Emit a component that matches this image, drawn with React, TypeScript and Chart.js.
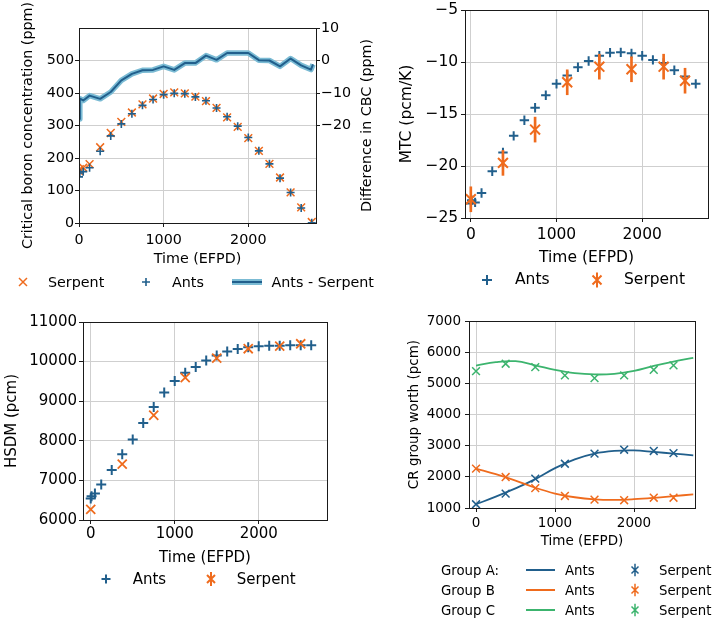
import React, { useEffect, useRef } from 'react';
import { Chart, registerables } from 'chart.js';

Chart.register(...registerables);

const FONT = '"DejaVu Sans", sans-serif';
const BLUE = '#215f8c';
const ORANGE = '#ef6b1d';
const GREEN = '#3cb46e';
const BAND = '#7bbbd4';
const GRID = '#cfcfcf';
const AXIS = '#1a1a1a';

// ---------- Panel 1: critical boron concentration ----------
const T_CBC = [0, 10, 50, 125, 250, 375, 500, 625, 750, 875, 1000, 1125, 1250, 1375, 1500, 1625, 1750, 1875, 2000, 2125, 2250, 2375, 2500, 2625, 2750];
const CBC_SERPENT = [160, 166, 170, 181, 233, 277, 311, 340, 365, 383, 397, 402, 399, 389, 375, 354, 325, 296, 261, 222, 182, 140, 94, 48, 3];
const CBC_ANTS = [142, 154, 158, 170, 221, 268, 305, 336, 362, 380, 395, 399, 398, 388, 376, 354, 327, 298, 263, 222, 182, 138, 94, 46, 1];
const T_DIFF = [0, 10, 50, 125, 250, 375, 500, 625, 750, 875, 1000, 1125, 1250, 1375, 1500, 1625, 1750, 1875, 2000, 2125, 2250, 2375, 2500, 2625, 2740, 2765];
const DIFF = [-18.0, -11.7, -12.3, -10.8, -11.8, -9.7, -6.1, -4.1, -3.0, -2.9, -1.8, -2.9, -0.8, -0.8, 1.5, 0.2, 2.3, 2.3, 2.3, 0.1, 0.0, -1.8, 0.6, -1.5, -2.8, -1.2];
const CBC_TICKS = [0, 100, 200, 300, 400, 500];
const DIFF_TICKS = [-20, -10, 0, 10];
const TIME_TICKS = [0, 1000, 2000];

// ---------- Panel 2: MTC ----------
const T_ANTS = [0, 10, 50, 125, 250, 375, 500, 625, 750, 875, 1000, 1125, 1250, 1375, 1500, 1625, 1750, 1875, 2000, 2125, 2250, 2375, 2500, 2625];
const MTC_ANTS = [-23.6, -23.3, -23.5, -22.6, -20.5, -18.7, -17.1, -15.6, -14.4, -13.2, -12.1, -11.3, -10.5, -9.9, -9.4, -9.1, -9.07, -9.17, -9.4, -9.8, -10.1, -10.8, -11.4, -12.1];
const T_SERP = [0, 375, 750, 1125, 1500, 1875, 2250, 2500];
const MTC_SERPENT = [-23.2, -19.7, -16.5, -11.95, -10.45, -10.7, -10.45, -11.8];
const MTC_ERR = [1.2, 1.2, 1.2, 1.2, 1.2, 1.2, 1.2, 1.2];
const MTC_TICKS = [-25, -20, -15, -10, -5];

// ---------- Panel 3: HSDM ----------
const HSDM_ANTS = [6546, 6600, 6672, 6898, 7260, 7662, 8033, 8451, 8854, 9217, 9509, 9721, 9862, 10030, 10156, 10252, 10320, 10360, 10385, 10400, 10400, 10410, 10410, 10410];
const HSDM_SERPENT = [6269, 7410, 8645, 9594, 10088, 10325, 10390, 10450];
const HSDM_TICKS = [6000, 7000, 8000, 9000, 10000, 11000];

// ---------- Panel 4: CR group worth ----------
const T_FIT = [0, 250, 500, 750, 1000, 1250, 1500, 1750, 2000, 2250, 2500, 2750];
const CR_A_ANTS = [1120, 1365, 1630, 1925, 2280, 2560, 2745, 2830, 2848, 2800, 2745, 2690];
const CR_B_ANTS = [2263, 2085, 1880, 1650, 1465, 1345, 1279, 1262, 1283, 1325, 1380, 1439];
const CR_C_ANTS = [5570, 5680, 5710, 5580, 5430, 5325, 5285, 5305, 5400, 5560, 5700, 5820];
const CR_A_SERPENT = [1120, 1460, 1940, 2420, 2744, 2870, 2830, 2763];
const CR_B_SERPENT = [2263, 1994, 1640, 1386, 1270, 1250, 1330, 1330];
const CR_C_SERPENT = [5391, 5628, 5520, 5253, 5167, 5253, 5435, 5574];
const CR_TICKS = [1000, 2000, 3000, 4000, 5000, 6000, 7000];

const pts = (xs: number[], ys: number[]) => xs.map((x, i) => ({ x, y: ys[i] }));
const fmt = (v: any) => String(v).replace('-', '\u2212');

const framePlugin = {
  id: 'frame',
  afterDatasetsDraw(chart: any) {
    const { ctx, chartArea: a } = chart;
    const al = (p: number) => Math.round(p - 0.5) + 0.5;
    const l = al(a.left), t = al(a.top), r = al(a.right), b = al(a.bottom);
    ctx.save();
    ctx.strokeStyle = AXIS;
    ctx.lineWidth = 1;
    ctx.strokeRect(l, t, r - l, b - t);
    ctx.restore();
  },
};

function scaleX(min: number, max: number, size: number, H: number, tickPad: number, titlePad: number) {
  return {
    type: 'linear', position: 'bottom', min, max, offset: false,
    afterBuildTicks: (s: any) => { s.ticks = TIME_TICKS.map((v) => ({ value: v })); },
    afterFit: (s: any) => { s.height = H; s.paddingLeft = 0; s.paddingRight = 0; },
    grid: { color: GRID, lineWidth: 1, drawTicks: true, tickLength: 4, tickColor: AXIS, tickWidth: 1, offset: false },
    border: { display: false },
    ticks: { color: '#000', font: { family: FONT, size }, padding: tickPad, maxRotation: 0, minRotation: 0, autoSkip: false, callback: fmt },
    title: { display: true, text: 'Time (EFPD)', color: '#000', font: { family: FONT, size }, padding: { top: 0, bottom: titlePad } },
  };
}

function scaleY(position: string, min: number, max: number, ticks: number[], size: number, W: number, tickPad: number, title: string | null, titlePad: number, onArea = true) {
  return {
    type: 'linear', position, min, max,
    afterBuildTicks: (s: any) => { s.ticks = ticks.map((v) => ({ value: v })); },
    afterFit: (s: any) => { s.width = W; s.paddingTop = 0; s.paddingBottom = 0; },
    grid: { color: GRID, lineWidth: 1, drawOnChartArea: onArea, drawTicks: true, tickLength: 4, tickColor: AXIS, tickWidth: 1 },
    border: { display: false },
    ticks: { color: '#000', font: { family: FONT, size }, padding: tickPad, autoSkip: false, callback: fmt },
    title: title
      ? { display: true, text: title, color: '#000', font: { family: FONT, size }, padding: { top: titlePad, bottom: 0 } }
      : { display: false },
  };
}

const scat = (label: string, xs: number[], ys: number[], style: string, color: string, r: number, bw: number, order: number, yAxisID = 'y') => ({
  type: 'scatter', label, data: pts(xs, ys), pointStyle: style, pointRadius: r, pointBorderColor: color,
  pointBackgroundColor: color, pointBorderWidth: bw, showLine: false, order, clip: 0, yAxisID,
});

const line = (label: string, xs: number[], ys: number[], color: string, w: number, tension: number, order: number, yAxisID = 'y') => ({
  type: 'scatter', label, data: pts(xs, ys), showLine: true, borderColor: color, backgroundColor: color, borderWidth: w,
  pointRadius: 0, tension, order, clip: 0, yAxisID, borderJoinStyle: 'round', borderCapStyle: 'butt', fill: false,
});

function baseOptions(padding: any, scales: any) {
  return {
    responsive: false, animation: false, devicePixelRatio: 1, events: [],
    layout: { padding },
    plugins: { legend: { display: false }, tooltip: { enabled: false }, title: { display: false } },
    scales,
  };
}

function config1() {
  const rightTitle = {
    id: 'rightTitle',
    afterDraw(chart: any) {
      const { ctx, chartArea: a } = chart;
      ctx.save();
      ctx.translate(367.5, (a.top + a.bottom) / 2);
      ctx.rotate(-Math.PI / 2);
      ctx.font = `14.3px ${FONT}`;
      ctx.fillStyle = '#000';
      ctx.textAlign = 'center';
      ctx.textBaseline = 'middle';
      ctx.fillText('Difference in CBC (ppm)', 0, 0);
      ctx.restore();
    },
  };
  return {
    type: 'scatter',
    data: {
      datasets: [
        line('band', T_DIFF, DIFF, BAND, 5.5, 0, 4, 'y1'),
        line('Ants - Serpent', T_DIFF, DIFF, BLUE, 2, 0, 3, 'y1'),
        scat('Serpent', T_CBC, CBC_SERPENT, 'crossRot', ORANGE, 5.5, 1.5, 2),
        scat('Ants', T_CBC, CBC_ANTS, 'cross', BLUE, 4, 1.6, 1),
      ],
    },
    options: baseOptions({ top: 28, left: 0, right: 0, bottom: 0 }, {
      x: scaleX(0, 2800, 14.3, 77, 4.4, 31.9),
      y: scaleY('left', 0, 600, CBC_TICKS, 14.3, 79, 1, 'Critical boron concentration (ppm)', 19.4),
      y1: scaleY('right', -50, 10, DIFF_TICKS, 14.3, 64, 1, null, 0, false),
    }),
    plugins: [framePlugin, rightTitle],
  };
}

function config2() {
  return {
    type: 'scatter',
    data: {
      datasets: [
        scat('Ants', T_ANTS, MTC_ANTS, 'cross', BLUE, 4.7, 2, 3),
        {
          type: 'bar', label: 'err', data: T_SERP.map((x, i) => ({ x, y: [MTC_SERPENT[i] - MTC_ERR[i], MTC_SERPENT[i] + MTC_ERR[i]] })),
          backgroundColor: ORANGE, borderWidth: 0, barThickness: 2, order: 2, clip: 0,
        },
        scat('Serpent', T_SERP, MTC_SERPENT, 'crossRot', ORANGE, 7, 2, 1),
      ],
    },
    options: baseOptions({ top: 10, left: 0, right: 2, bottom: 0 }, {
      x: scaleX(-68, 2768, 15.5, 82, 3.2, 33.2),
      y: scaleY('left', -25, -5, MTC_TICKS, 15.5, 85, 2.8, 'MTC (pcm/K)', 17.4),
    }),
    plugins: [framePlugin],
  };
}

function config3() {
  return {
    type: 'scatter',
    data: {
      datasets: [
        scat('Ants', T_ANTS, HSDM_ANTS, 'cross', BLUE, 5, 2, 2),
        scat('Serpent', T_SERP, HSDM_SERPENT, 'crossRot', ORANGE, 6.4, 1.8, 1),
      ],
    },
    options: baseOptions({ top: 22, left: 0, right: 53, bottom: 0 }, {
      x: scaleX(-92, 2813, 15, 100, 1, 53),
      y: scaleY('left', 6000, 11000, HSDM_TICKS, 15, 83, 2, 'HSDM (pcm)', 3.5),
    }),
    plugins: [framePlugin],
  };
}

function config4() {
  return {
    type: 'scatter',
    data: {
      datasets: [
        line('A Ants', T_FIT, CR_A_ANTS, BLUE, 1.8, 0.4, 6),
        line('B Ants', T_FIT, CR_B_ANTS, ORANGE, 1.8, 0.4, 5),
        line('C Ants', T_FIT, CR_C_ANTS, GREEN, 1.8, 0.4, 4),
        scat('A Serpent', T_SERP, CR_A_SERPENT, 'crossRot', BLUE, 5.5, 1.5, 3),
        scat('B Serpent', T_SERP, CR_B_SERPENT, 'crossRot', ORANGE, 5.5, 1.5, 2),
        scat('C Serpent', T_SERP, CR_C_SERPENT, 'crossRot', GREEN, 5.5, 1.5, 1),
      ],
    },
    options: baseOptions({ top: 21, left: 0, right: 22, bottom: 0 }, {
      x: scaleX(-89, 2772, 13.5, 112, 3.2, 70.2),
      y: scaleY('left', 1000, 7000, CR_TICKS, 13.5, 89, 4, 'CR group worth (pcm)', 25.9),
    }),
    plugins: [framePlugin],
  };
}

function Panel({ left, top, width, height, build }: any) {
  const ref = useRef<HTMLCanvasElement>(null);
  useEffect(() => {
    const chart = new Chart(ref.current as HTMLCanvasElement, build() as any);
    return () => chart.destroy();
  }, []);
  return <canvas ref={ref} width={width} height={height} style={{ position: 'absolute', left, top, width, height }} />;
}

function Txt({ x, base, size, children }: any) {
  return (
    <div style={{ position: 'absolute', left: x, top: base - 0.846 * size, fontSize: size, lineHeight: `${size}px`, fontFamily: FONT, whiteSpace: 'nowrap', color: '#000' }}>
      {children}
    </div>
  );
}

function Mark({ cx, cy, kind, color, h, sw, bar }: any) {
  const s = 30;
  let d = '';
  if (kind === 'plus') d = `M${-h} 0H${h}M0 ${-h}V${h}`;
  if (kind === 'x') d = `M${-h} ${-h}L${h} ${h}M${-h} ${h}L${h} ${-h}`;
  if (bar) d += `M0 ${-bar}V${bar}`;
  return (
    <svg width={s} height={s} viewBox={`${-s / 2} ${-s / 2} ${s} ${s}`} style={{ position: 'absolute', left: cx - s / 2, top: cy - s / 2, overflow: 'visible' }}>
      <path d={d} stroke={color} strokeWidth={sw} fill="none" />
    </svg>
  );
}

function Bar({ x1, x2, cy, h, color }: any) {
  return <div style={{ position: 'absolute', left: x1, top: cy - h / 2, width: x2 - x1, height: h, background: color }} />;
}

export default function App() {
  useEffect(() => {
    document.body.style.margin = '0';
  }, []);
  const rows = [
    { label: 'Group A:', color: BLUE, cy: 570, base: 575.7 },
    { label: 'Group B', color: ORANGE, cy: 590, base: 595.7 },
    { label: 'Group C', color: GREEN, cy: 610, base: 615.7 },
  ];
  return (
    <div style={{ position: 'relative', width: 717, height: 620, background: '#fff', overflow: 'hidden' }}>
      <style>{'body{margin:0}'}</style>
      <Panel left={0} top={0} width={380} height={300} build={config1} />
      <Panel left={380} top={0} width={337} height={300} build={config2} />
      <Panel left={0} top={300} width={380} height={320} build={config3} />
      <Panel left={380} top={300} width={337} height={320} build={config4} />

      {/* Legend panel 1 */}
      <Mark cx={22.7} cy={281.7} kind="x" color={ORANGE} h={4} sw={1.5} />
      <Txt x={48} base={287} size={14.3}>Serpent</Txt>
      <Mark cx={145.7} cy={281.7} kind="plus" color={BLUE} h={4} sw={1.6} />
      <Txt x={172} base={287} size={14.3}>Ants</Txt>
      <Bar x1={231.7} x2={261.7} cy={281.7} h={6} color={BAND} />
      <Bar x1={231.7} x2={261.7} cy={281.7} h={2} color={BLUE} />
      <Txt x={271.5} base={287} size={14.3}>Ants - Serpent</Txt>

      {/* Legend panel 2 */}
      <Mark cx={486.7} cy={280} kind="plus" color={BLUE} h={5} sw={2} />
      <Txt x={515} base={285.5} size={15.5}>Ants</Txt>
      <Mark cx={596.7} cy={280} kind="x" color={ORANGE} h={4.5} sw={2} bar={7.5} />
      <Txt x={624} base={285.5} size={15.5}>Serpent</Txt>

      {/* Legend panel 3 */}
      <Mark cx={106} cy={579.3} kind="plus" color={BLUE} h={4.5} sw={2} />
      <Txt x={132.7} base={585} size={15}>Ants</Txt>
      <Mark cx={210.7} cy={579.3} kind="x" color={ORANGE} h={4} sw={2} bar={7} />
      <Txt x={236.7} base={585} size={15}>Serpent</Txt>

      {/* Legend panel 4 */}
      {rows.map((r) => (
        <React.Fragment key={r.label}>
          <Txt x={441} base={r.base} size={13.3}>{r.label}</Txt>
          <Bar x1={526} x2={555} cy={r.cy} h={2} color={r.color} />
          <Txt x={565} base={r.base} size={13.3}>Ants</Txt>
          <Mark cx={635} cy={r.cy} kind="x" color={r.color} h={3.5} sw={1.5} bar={6.3} />
          <Txt x={659} base={r.base} size={13.3}>Serpent</Txt>
        </React.Fragment>
      ))}
    </div>
  );
}
